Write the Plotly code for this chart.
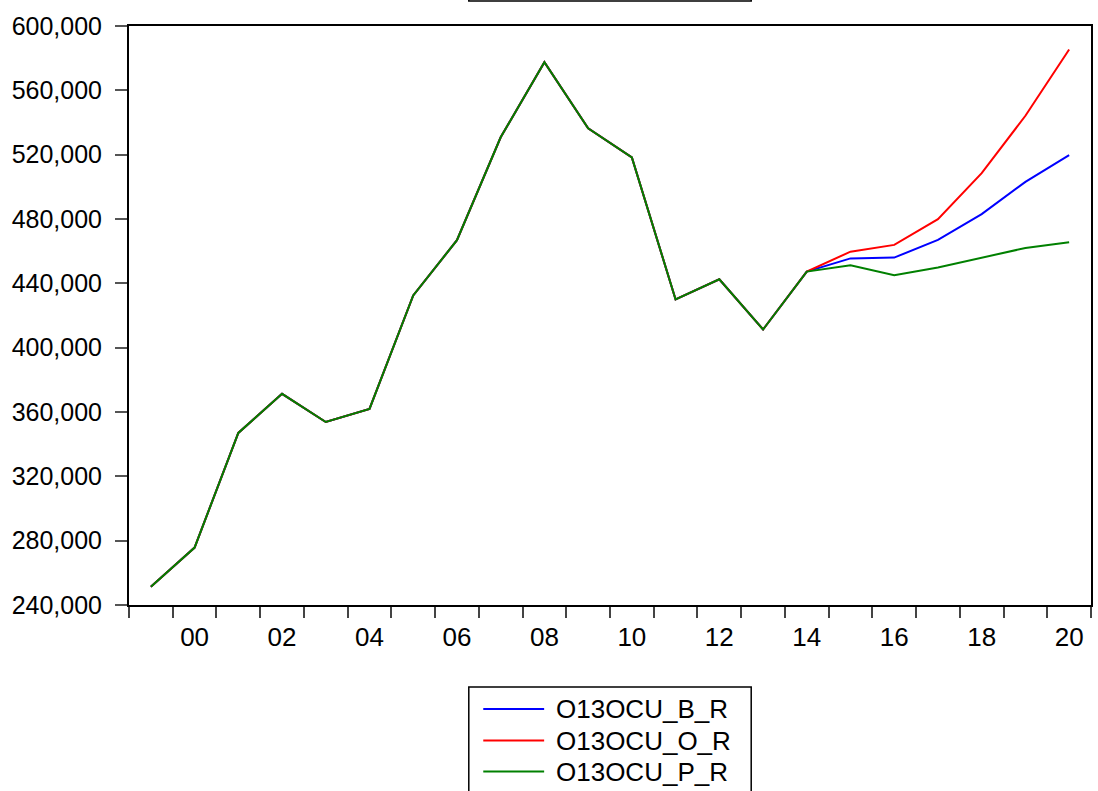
import plotly.graph_objects as go

years = list(range(1999, 2021))
history = [251400, 275700, 347000, 371300, 353800, 361900, 432500, 466800,
           530800, 577500, 536400, 518300, 430000, 442500, 411300, 447300]
forecast_b = [455500, 456000, 467000, 483000, 503100, 519700]
forecast_o = [459700, 463900, 479900, 508500, 544200, 585400]
forecast_p = [451300, 445000, 449800, 456000, 462000, 465500]

series_names = ["O13OCU_B_R", "O13OCU_O_R", "O13OCU_P_R"]
series_colors = ["#0000FF", "#FF0000", "#008000"]
series_values = [history + forecast_b, history + forecast_o, history + forecast_p]

tick_years = list(range(2000, 2021, 2))
tick_text = [f"{y % 100:02d}" for y in tick_years]
y_ticks = list(range(240000, 600001, 40000))

FONT = "Liberation Sans, Arial, sans-serif"
W, H = 1098, 791
L, R, T, B = 129, 5, 26, 186
pw, ph = W - L - R, H - T - B


def px(x):
    return (x - L) / pw


def py(y):
    return (H - B - y) / ph


fig = go.Figure()
for name, color, vals in zip(series_names, series_colors, series_values):
    fig.add_trace(go.Scatter(x=years, y=vals, mode="lines", name=name,
                             line=dict(color=color, width=2), showlegend=False))

boundaries = [years[0] - 0.5 + i for i in range(len(years) + 1)]

fig.update_layout(
    width=W, height=H,
    margin=dict(l=L, r=R, t=T, b=B),
    paper_bgcolor="white", plot_bgcolor="white",
    font=dict(family=FONT, size=25, color="black"),
    xaxis=dict(range=[years[0] - 0.5, years[-1] + 0.5], tickmode="array",
               tickvals=tick_years, ticktext=tick_text, ticks="",
               showgrid=False, zeroline=False, showline=True, mirror=True,
               linecolor="black", linewidth=2, ticklabelstandoff=8,
               tickfont=dict(size=26),
               minor=dict(tickmode="array", tickvals=boundaries, ticks="outside",
                          ticklen=11, tickwidth=1.5, tickcolor="#444",
                          showgrid=False)),
    yaxis=dict(range=[240000, 600000], tickmode="array", tickvals=y_ticks,
               ticktext=[f"{v:,}" for v in y_ticks], ticks="outside", ticklen=12,
               tickwidth=1.5, tickcolor="#555", showgrid=False, zeroline=False,
               showline=True, mirror=True, linecolor="black", linewidth=2,
               ticklabelstandoff=8),
)

# top (cut-off) box
fig.add_shape(type="rect", xref="paper", yref="paper",
              x0=px(469.5), x1=px(752.5), y0=py(1), y1=py(-30),
              line=dict(color="black", width=1.5), fillcolor="white")

# legend box
fig.add_shape(type="rect", xref="paper", yref="paper",
              x0=px(469.5), x1=px(752.5), y0=py(687), y1=py(830),
              line=dict(color="black", width=1.5), fillcolor="white")
row_y = [709, 740.5, 771.5]
for name, color, ry in zip(series_names, series_colors, row_y):
    fig.add_shape(type="line", xref="paper", yref="paper",
                  x0=px(484), x1=px(545), y0=py(ry), y1=py(ry),
                  line=dict(color=color, width=2))
    fig.add_annotation(xref="paper", yref="paper", x=px(555), y=py(ry),
                       text=name, showarrow=False, xanchor="left",
                       yanchor="middle", font=dict(family=FONT, size=26))

fig.write_html("out.html", config={"displayModeBar": False},
               post_script="document.body.style.margin='0px';"
                           "document.body.style.overflow='hidden';")
